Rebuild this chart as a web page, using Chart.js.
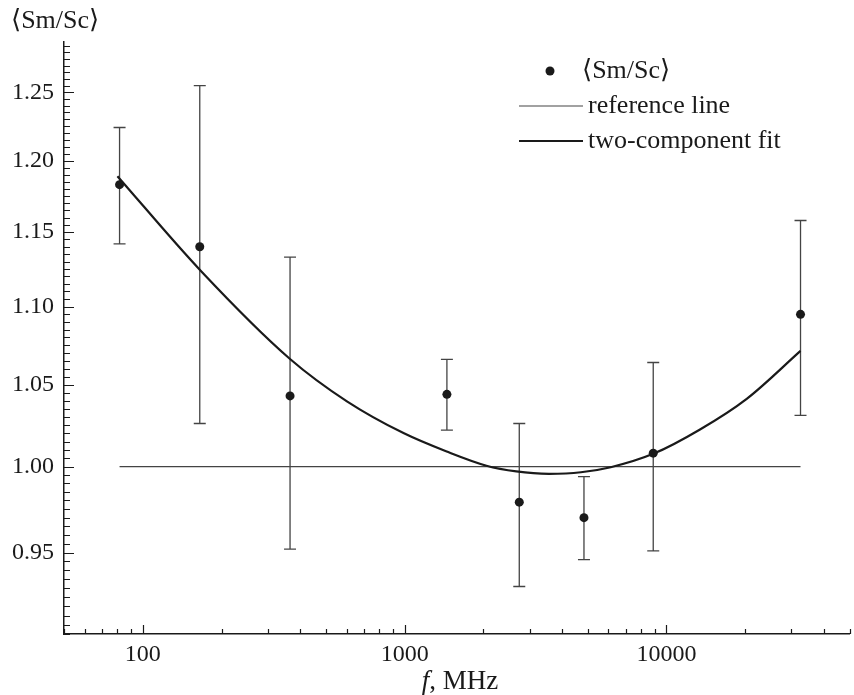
<!DOCTYPE html>
<html>
<head>
<meta charset="utf-8">
<script src="https://cdn.jsdelivr.net/npm/chart.js@4"></script>
<style>
  html, body { margin: 0; padding: 0; background: #fff; }
  #wrap { width: 854px; height: 695px; }
</style>
</head>
<body>
<div id="wrap"><canvas id="chart" width="854" height="695"></canvas></div>
<script>
// measured ratio per frequency
const freq = [81.5, 165, 365, 1450, 2740, 4840, 8900, 32500];
const ratio = [1.183, 1.140, 1.043, 1.044, 0.979, 0.970, 1.008, 1.095];
const errLow = [1.142, 1.026, 0.952, 1.022, 0.931, 0.946, 0.951, 1.031];
const errHigh = [1.224, 1.255, 1.133, 1.066, 1.026, 0.994, 1.064, 1.158];

// reference line
const refF = [81.5, 32500];
const refV = [1.0, 1.0];

// two-component fit
const fitF = [80, 166, 364, 604, 994, 1447, 2053, 2669, 3556, 4712, 6124, 8896, 13380, 20250, 32500];
const fitV = [1.189, 1.124, 1.0664, 1.0395, 1.0200, 1.0090, 1.0005, 0.9971, 0.9957, 0.9966, 0.9996, 1.0076, 1.0222, 1.0412, 1.0714];

const xTicks = [100, 1000, 10000];
const yTicks = [0.95, 1.00, 1.05, 1.10, 1.15, 1.20, 1.25];

const SERIF = '"Liberation Serif", "DejaVu Serif", serif';
const INK = "#1a1a1a";

const toXY = (xs, ys) => xs.map((x, i) => ({ x: x, y: ys[i] }));

// error bars under the points
const errorBars = {
    id: "errorBars",
    beforeDatasetsDraw(chart) {
        const { ctx, scales: { x, y } } = chart;
        ctx.save();
        ctx.strokeStyle = "#444";
        ctx.lineWidth = 1.3;
        for (let i = 0; i < freq.length; i++) {
            const px = x.getPixelForValue(freq[i]);
            const top = y.getPixelForValue(errHigh[i]);
            const bot = y.getPixelForValue(errLow[i]);
            ctx.beginPath();
            ctx.moveTo(px, top); ctx.lineTo(px, bot);
            ctx.moveTo(px - 6, top); ctx.lineTo(px + 6, top);
            ctx.moveTo(px - 6, bot); ctx.lineTo(px + 6, bot);
            ctx.stroke();
        }
        ctx.restore();
    }
};

// inward tick marks, axis titles and legend
const frame = {
    id: "frame",
    afterDraw(chart) {
        const { ctx, chartArea: a, scales: { x, y } } = chart;
        ctx.save();
        ctx.strokeStyle = INK;
        ctx.lineWidth = 1.2;
        ctx.beginPath();
        for (let i = 181; i <= 257; i++) {
            const py = Math.round(y.getPixelForValue(i / 200)) + 0.5;
            const len = i % 10 === 0 ? 10 : 6;
            ctx.moveTo(a.left, py); ctx.lineTo(a.left + len, py);
        }
        for (const d of [10, 100, 1000, 10000]) {
            for (let m = 1; m <= 9; m++) {
                const v = m * d;
                if (v < 50 || v > 50000) continue;
                const px = Math.round(x.getPixelForValue(v)) + 0.5;
                const len = m === 1 ? 9 : 5;
                ctx.moveTo(px, a.bottom); ctx.lineTo(px, a.bottom - len);
            }
        }
        ctx.stroke();

        ctx.fillStyle = INK;
        ctx.textBaseline = "middle";
        ctx.textAlign = "left";
        ctx.font = "26px " + SERIF;
        ctx.fillText("\u27E8Sm/Sc\u27E9", 11, 21);

        // x title: italic f
        ctx.font = "italic 27px " + SERIF;
        const fW = ctx.measureText("f").width;
        ctx.font = "27px " + SERIF;
        const restW = ctx.measureText(", MHz").width;
        let tx = 460 - (fW + restW) / 2;
        ctx.font = "italic 27px " + SERIF;
        ctx.fillText("f", tx, 682);
        ctx.font = "27px " + SERIF;
        ctx.fillText(", MHz", tx + fW, 682);

        // legend
        ctx.font = "26px " + SERIF;
        ctx.beginPath();
        ctx.arc(550, 71, 4.5, 0, Math.PI * 2);
        ctx.fill();
        ctx.fillText("\u27E8Sm/Sc\u27E9", 582, 71);

        ctx.strokeStyle = "#444";
        ctx.lineWidth = 1.2;
        ctx.beginPath();
        ctx.moveTo(519, 106); ctx.lineTo(583, 106);
        ctx.stroke();
        ctx.fillText("reference line", 588, 106);

        ctx.strokeStyle = INK;
        ctx.lineWidth = 2.2;
        ctx.beginPath();
        ctx.moveTo(519, 141); ctx.lineTo(583, 141);
        ctx.stroke();
        ctx.fillText("two-component fit", 588, 141);
        ctx.restore();
    }
};

const ctx = document.getElementById("chart").getContext("2d");
new Chart(ctx, {
    type: "line",
    data: {
        datasets: [
            {
                label: "\u27E8Sm/Sc\u27E9",
                data: toXY(freq, ratio),
                showLine: false,
                pointRadius: 4.5,
                pointHoverRadius: 4.5,
                pointBackgroundColor: INK,
                pointBorderWidth: 0,
                order: 0
            },
            {
                label: "reference line",
                data: toXY(refF, refV),
                borderColor: "#444",
                borderWidth: 1.2,
                pointRadius: 0,
                order: 2
            },
            {
                label: "two-component fit",
                data: toXY(fitF, fitV),
                borderColor: INK,
                borderWidth: 2.2,
                pointRadius: 0,
                cubicInterpolationMode: "monotone",
                order: 1
            }
        ]
    },
    options: {
        responsive: false,
        devicePixelRatio: 1,
        animation: false,
        layout: { padding: { top: 42, left: 0, right: 0, bottom: 0 } },
        plugins: {
            legend: { display: false },
            tooltip: { enabled: false }
        },
        scales: {
            x: {
                type: "logarithmic",
                min: 50,
                max: 50000,
                grid: { display: true, drawOnChartArea: false, drawTicks: false },
                border: { display: true, color: INK, width: 1.5 },
                afterBuildTicks: s => { s.ticks = xTicks.map(v => ({ value: v })); },
                afterFit: s => { s.height = 61; },
                ticks: {
                    padding: 6,
                    color: INK,
                    font: { family: SERIF, size: 24 },
                    maxRotation: 0,
                    callback: v => String(v)
                }
            },
            y: {
                type: "logarithmic",
                min: 0.905,
                max: 1.288,
                grid: { display: true, drawOnChartArea: false, drawTicks: false },
                border: { display: true, color: INK, width: 1.5 },
                afterBuildTicks: s => { s.ticks = yTicks.map(v => ({ value: v })); },
                afterFit: s => { s.width = 64; },
                ticks: {
                    padding: 10,
                    color: INK,
                    font: { family: SERIF, size: 24 },
                    callback: v => Number(v).toFixed(2)
                }
            }
        }
    },
    plugins: [errorBars, frame]
});
</script>
</body>
</html>
